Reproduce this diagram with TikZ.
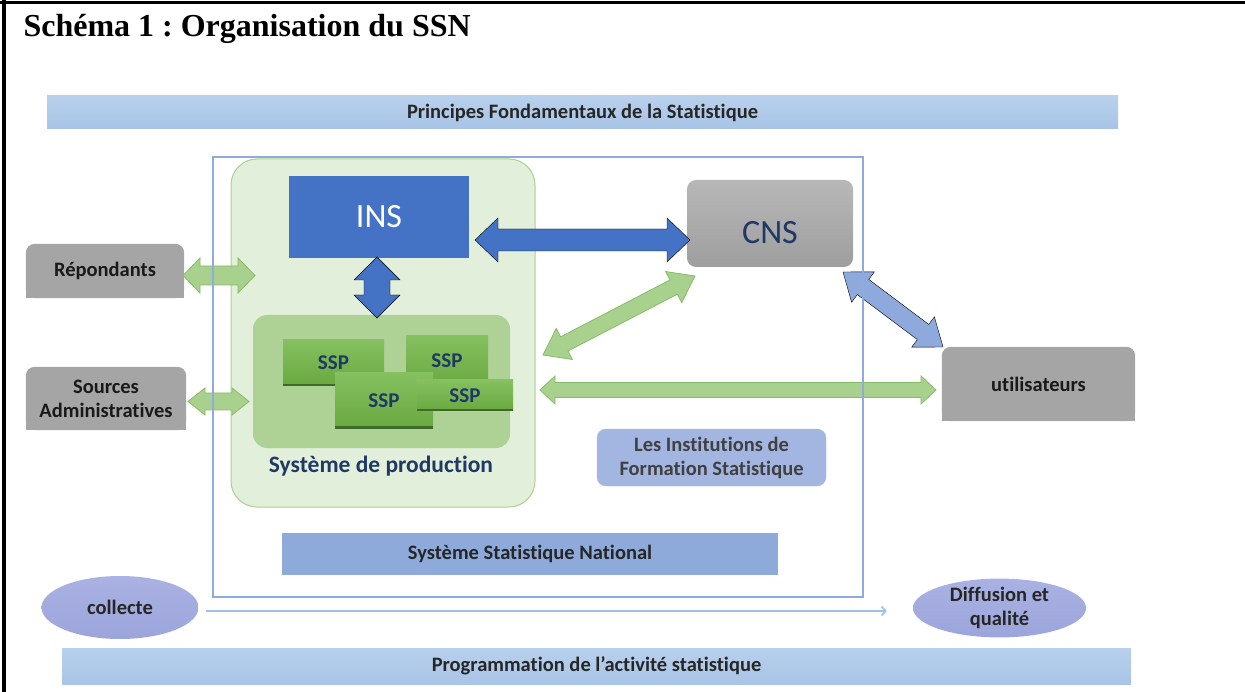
\documentclass[tikz,border=0pt]{standalone}
\usepackage{fontspec}
\setmainfont{Liberation Serif}
\newfontfamily\calib[Ligatures=NoCommon]{Carlito}
\frenchspacing
\usetikzlibrary{calc,arrows.meta,backgrounds,shapes.geometric}

\definecolor{barblue}{HTML}{B8D0EC}
\definecolor{barblue2}{HTML}{A8C4E6}
\definecolor{framebl}{HTML}{8FAADC}
\definecolor{prodgreen}{HTML}{E2EFDA}
\definecolor{prodline}{HTML}{AAD190}
\definecolor{zonegreen}{HTML}{AED296}
\definecolor{ssptop}{HTML}{86C060}
\definecolor{sspbot}{HTML}{69A940}
\definecolor{sspedge}{HTML}{3D6A27}
\definecolor{insblue}{HTML}{4472C4}
\definecolor{boxgrey}{HTML}{A5A5A5}
\definecolor{navy}{HTML}{1F3864}
\definecolor{arrgreen}{HTML}{A9D18E}
\definecolor{arrgreenline}{HTML}{86BC68}
\definecolor{arrblue}{HTML}{8EA9DB}
\definecolor{formblue}{HTML}{A3B5E1}
\definecolor{ssnblue}{HTML}{8EAADB}
\definecolor{ovaltop}{HTML}{AAB2E3}
\definecolor{ovalbot}{HTML}{9CA5DB}
\definecolor{flowblue}{HTML}{9DC3E6}
\definecolor{ink}{HTML}{262626}

\def\lbl{\calib\bfseries\fontsize{20.5}{24}\selectfont}
% fat arrow with a head at both ends: (from)(to)(shaft half width:head half width:head length)
\def\twoway[#1](#2)(#3)(#4:#5:#6){\draw[#1] (#2)
	-- ($(#2)!#6!(#3)!#5!90:(#3)$) -- ($(#2)!#6!(#3)!#4!90:(#3)$)
	-- ($(#3)!#6!(#2)!#4!-90:(#2)$) -- ($(#3)!#6!(#2)!#5!-90:(#2)$)
	-- (#3)
	-- ($(#3)!#6!(#2)!#5!90:(#2)$) -- ($(#3)!#6!(#2)!#4!90:(#2)$)
	-- ($(#2)!#6!(#3)!#4!-90:(#3)$) -- ($(#2)!#6!(#3)!#5!-90:(#3)$)
	-- cycle;}
% grey box rounded on top only
\def\topround(#1){\fill[boxgrey, rounded corners=9pt] (#1.south west) rectangle (#1.north east);
	\fill[boxgrey] (#1.south west) rectangle (#1.east);}

\tikzset{
	bar/.style={font=\lbl, text=ink, inner sep=0pt, top color=barblue, bottom color=barblue2},
	greybox/.style={font=\lbl, text=black!90, align=center, inner sep=0pt},
	ssp/.style={font=\calib\bfseries\fontsize{21}{24}\selectfont, text=navy, inner sep=0pt,
		top color=ssptop, bottom color=sspbot,
		path picture={\draw[sspedge, line width=4pt] (path picture bounding box.south west) -- (path picture bounding box.south east);}},
	oval/.style={ellipse, font=\lbl, text=ink, align=center, inner sep=0pt, top color=ovaltop, bottom color=ovalbot},
	green arrow/.style={fill=arrgreen, draw=arrgreenline, line width=0.8pt},
	blue arrow/.style={fill=insblue},
	pale arrow/.style={fill=arrblue}
}

\begin{document}
\begin{tikzpicture}[x=1pt, y=-1pt]
	%%%%% START %%%%%
	\useasboundingbox (0,0) rectangle (1245,692);
	\draw[line width=3pt] (0,3) -- (1245,3);
	\draw[line width=4pt] (4,0) -- (4,692);
	
	\node[anchor=base west, font=\bfseries\fontsize{32}{36}\selectfont] (title) at (20,37) {Schéma 1 : Organisation du SSN};
	
	\node[bar, minimum width=1071pt, minimum height=33pt] (principes) at (582.5,112.5) {Principes Fondamentaux de la Statistique};
	
	% production system
	\node[fill=prodgreen, draw=prodline, line width=1pt, rounded corners=26pt, minimum width=304pt, minimum height=348pt] (prod) at (383,333) {};
	\node[fill=zonegreen, rounded corners=14pt, minimum width=257pt, minimum height=133pt] (zone) at (381.5,381.5) {};
	\node[ssp, minimum width=101pt, minimum height=46pt] (ssp1) at (333.5,363) {SSP};
	\node[ssp, minimum width=82pt, minimum height=50pt] (ssp2) at (447,361) {SSP};
	\node[ssp, minimum width=98pt, minimum height=55pt] (ssp3) at (384,400.5) {SSP};
	\node[ssp, minimum width=96pt, minimum height=31pt] (ssp4) at (465,395.5) {SSP};
	\node[font=\calib\bfseries\fontsize{23.5}{26}\selectfont, text=navy] (prodlabel) at (381,466) {Système de production};
	
	\node[fill=insblue, text=white, font=\calib\fontsize{34}{40}\selectfont, minimum width=180pt, minimum height=82pt] (ins) at (379,217) {INS};
	\node[top color=black!28, bottom color=black!38, rounded corners=9pt, minimum width=166pt, minimum height=87pt,
		label={[text=navy, font=\calib\fontsize{34}{40}\selectfont, yshift=-9pt]center:CNS}] (cns) at (770,223.5) {};
	
	% outside the system
	\node[greybox, minimum width=158pt, minimum height=54pt] (rep) at (105,271) {Répondants};
	\node[greybox, minimum width=160pt, minimum height=63pt] (sources) at (106,398.5) {Sources\\Administratives};
	\node[greybox, minimum width=193pt, minimum height=74pt] (users) at (1038.5,384) {utilisateurs};
	\begin{scope}[on background layer]
		\topround(rep)
		\topround(sources)
		\topround(users)
	\end{scope}
	
	\node[fill=formblue, draw=framebl!80, rounded corners=9pt, font=\lbl, text=black!75, align=center, minimum width=229pt, minimum height=57pt, inner sep=0pt] (forma) at (711.5,457.5) {Les Institutions de\\Formation Statistique};
	\node[fill=ssnblue, font=\lbl, text=ink, minimum width=496pt, minimum height=42pt, inner sep=0pt] (ssn) at (530,554) {Système Statistique National};
	
	% arrow ends
	\coordinate (rep a) at (183,275.5);
	\coordinate (rep b) at (255,275.5);
	\coordinate (src a) at (188,401.5);
	\coordinate (src b) at (249,401.5);
	\coordinate (ins a) at (377,257);
	\coordinate (ins b) at (377,318);
	\coordinate (ins c) at (475,240);
	\coordinate (cns a) at (690,240);
	\coordinate (cns b) at (695,276);
	\coordinate (cns c) at (843,272);
	\coordinate (prod a) at (543,355);
	\coordinate (prod b) at (540,390);
	\coordinate (users a) at (936,390);
	\coordinate (users b) at (943,347);
	
	\twoway[green arrow](rep a)(rep b)(9.5pt:17.5pt:17pt)
	\twoway[green arrow](src a)(src b)(8.5pt:13.5pt:17pt)
	\twoway[blue arrow](ins a)(ins b)(13pt:23pt:23pt)
	\twoway[blue arrow](ins c)(cns a)(11pt:22pt:23pt)
	\twoway[green arrow](prod a)(cns b)(8pt:17.5pt:24pt)
	\twoway[green arrow](prod b)(users a)(7.5pt:14pt:15pt)
	\twoway[pale arrow](cns c)(users b)(9.5pt:19pt:25pt)
	
	\node[draw=framebl, line width=1.2pt, minimum width=650pt, minimum height=440pt] (ssnframe) at (538,377) {};
	
	% collection to dissemination
	\node[oval, minimum width=157pt, minimum height=63pt] (collecte) at (120,607.5) {collecte};
	\node[oval, minimum width=173pt, minimum height=53pt] (diffusion) at (999.5,608) {Diffusion et\\qualité};
	\draw[flowblue, line width=1.8pt, -{Straight Barb[length=4pt,width=9pt]}] ([xshift=7pt,yshift=-3.5pt]collecte.east) -- ([xshift=-26pt,yshift=-3pt]diffusion.west);
	
	\node[bar, minimum width=1069pt, minimum height=36pt] (progr) at (596.5,666) {Programmation de l’activité statistique};
	%%%%% END %%%%%
\end{tikzpicture}
\end{document}
